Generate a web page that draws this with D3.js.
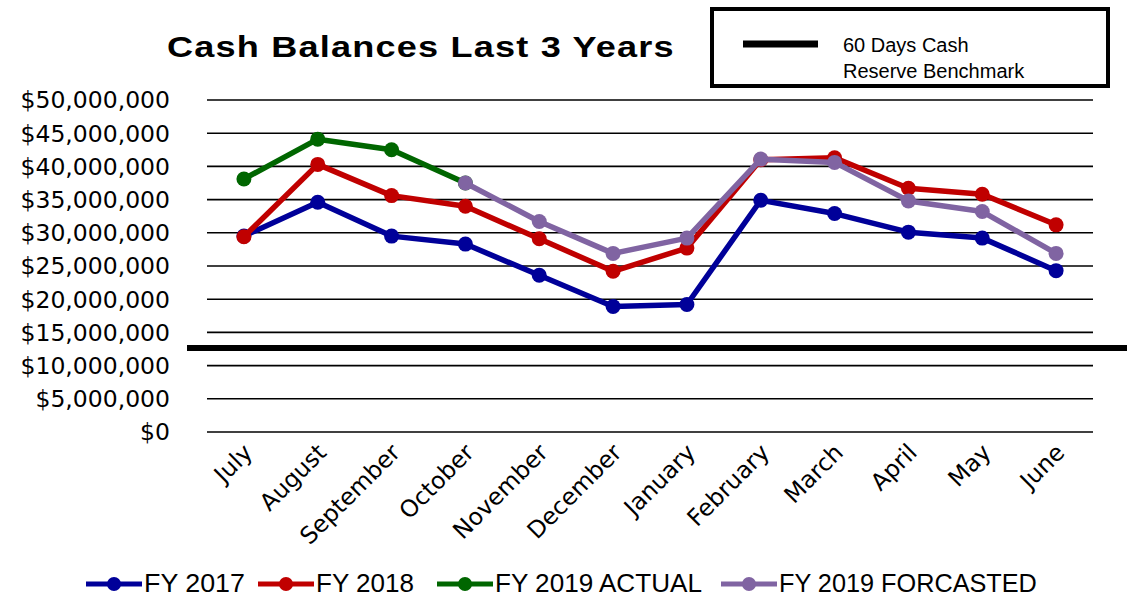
<!DOCTYPE html>
<html>
<head>
<meta charset="utf-8">
<script src="https://cdn.jsdelivr.net/npm/d3@7"></script>
<style>
  body { margin: 0; background: #fff; }
  svg { display: block; }
  .tick-label { font-family: "DejaVu Sans", Verdana, sans-serif; font-size: 23.5px; }
</style>
</head>
<body>
<div class="chart"></div>
<script>
// values in dollars, Jul..Jun
const months = ["July","August","September","October","November","December",
                "January","February","March","April","May","June"];
const fy2017 = [29.5, 34.6, 29.5, 28.3, 23.6, 18.9, 19.2, 34.9, 32.9, 30.1, 29.2, 24.3].map(v => v * 1e6);
const fy2018 = [29.4, 40.3, 35.6, 34.0, 29.1, 24.2, 27.7, 41.0, 41.3, 36.7, 35.8, 31.2].map(v => v * 1e6);
const fy2019Actual = [38.1, 44.1, 42.5, 37.5, null, null, null, null, null, null, null, null].map(v => v == null ? null : v * 1e6);
const fy2019Forecast = [null, null, null, 37.5, 31.7, 26.9, 29.2, 41.1, 40.6, 34.8, 33.2, 26.9].map(v => v == null ? null : v * 1e6);
const yTicks = [0, 5e6, 10e6, 15e6, 20e6, 25e6, 30e6, 35e6, 40e6, 45e6, 50e6];
const benchmark = 12.65e6;

const seriesNames = ["FY 2017", "FY 2018", "FY 2019 ACTUAL", "FY 2019 FORCASTED"];
const seriesColors = ["#000099", "#c00000", "#006600", "#8064a2"];
const seriesValues = [fy2017, fy2018, fy2019Actual, fy2019Forecast];

const width = 1131, height = 597;
const margin = {top: 100, right: 38, bottom: 165, left: 207};
const innerW = width - margin.left - margin.right;
const innerH = height - margin.top - margin.bottom;

const svg = d3.select('.chart').append('svg')
  .attr('width', width).attr('height', height);

const g = svg.append('g').attr('transform', `translate(${margin.left},${margin.top})`);

const x = d3.scaleBand().domain(months).range([0, innerW]);
const y = d3.scaleLinear().domain([0, 50e6]).range([innerH, 0]);

// gridlines
g.append('g').selectAll('line').data(yTicks).join('line')
  .attr('x1', 0).attr('x2', innerW)
  .attr('y1', d => y(d)).attr('y2', d => y(d))
  .attr('stroke', '#000').attr('stroke-width', 1.6);

// y labels
const fmt = d3.format("$,.0f");
g.append('g').selectAll('text').data(yTicks).join('text')
  .attr('class', 'tick-label')
  .attr('x', -37).attr('y', d => y(d)).attr('dy', '0.36em')
  .attr('text-anchor', 'end')
  .text(d => fmt(d));

// x labels rotated
g.append('g').selectAll('text').data(months).join('text')
  .attr('class', 'tick-label')
  .attr('transform', d => `translate(${x(d) + x.bandwidth() / 2 + 10},${innerH + 22}) rotate(-45)`)
  .attr('text-anchor', 'end')
  .text(d => d);

// benchmark line
g.append('line')
  .attr('x1', -20).attr('x2', innerW + 34)
  .attr('y1', y(benchmark)).attr('y2', y(benchmark))
  .attr('stroke', '#000').attr('stroke-width', 6);

// series
const line = d3.line()
  .defined(d => d.v != null)
  .x(d => x(d.m) + x.bandwidth() / 2)
  .y(d => y(d.v));

seriesValues.forEach((vals, i) => {
  const pts = vals.map((v, j) => ({m: months[j], v: v}));
  const sg = g.append('g');
  sg.append('path').datum(pts)
    .attr('d', line)
    .attr('fill', 'none')
    .attr('stroke', seriesColors[i])
    .attr('stroke-width', 5.5)
    .attr('stroke-linejoin', 'round');
  sg.selectAll('circle').data(pts.filter(d => d.v != null)).join('circle')
    .attr('cx', d => x(d.m) + x.bandwidth() / 2)
    .attr('cy', d => y(d.v))
    .attr('r', 7.5)
    .attr('fill', seriesColors[i]);
});

// scale a text horizontally so it fills the wanted width
function fitWidth(sel, x0, y0, w) {
  const natural = sel.node().getComputedTextLength();
  sel.attr('transform', `translate(${x0},${y0}) scale(${w / natural},1)`);
}

// title
const title = svg.append('text')
  .style('font-family', '"Liberation Sans", Arial, sans-serif')
  .style('font-weight', 'bold')
  .style('font-size', '30px')
  .style('letter-spacing', '1px')
  .text('Cash Balances Last 3 Years');
fitWidth(title, 167, 57, 508);

// benchmark legend box
const bx = svg.append('g');
bx.append('rect')
  .attr('x', 712).attr('y', 9).attr('width', 396).attr('height', 77)
  .attr('fill', '#fff').attr('stroke', '#000').attr('stroke-width', 4);
bx.append('line')
  .attr('x1', 743).attr('x2', 818).attr('y1', 44).attr('y2', 44)
  .attr('stroke', '#000').attr('stroke-width', 7);
bx.append('text')
  .attr('x', 843).attr('y', 52)
  .style('font-family', '"Liberation Sans", Arial, sans-serif')
  .style('font-size', '20px')
  .text('60 Days Cash');
bx.append('text')
  .attr('x', 843).attr('y', 78)
  .style('font-family', '"Liberation Sans", Arial, sans-serif')
  .style('font-size', '20px')
  .text('Reserve Benchmark');

// bottom legend
const legX = [86, 258, 437, 721];
const textW = [101, 98, 207, 258];
const leg = svg.append('g').attr('transform', 'translate(0,584)');
seriesNames.forEach((name, i) => {
  const lg = leg.append('g').attr('transform', `translate(${legX[i]},0)`);
  lg.append('line').attr('x1', 0).attr('x2', 56).attr('y1', 0).attr('y2', 0)
    .attr('stroke', seriesColors[i]).attr('stroke-width', 5);
  lg.append('circle').attr('cx', 28).attr('cy', 0).attr('r', 7).attr('fill', seriesColors[i]);
  const t = lg.append('text')
    .style('font-family', '"Liberation Sans Narrow", "Arial Narrow", "Liberation Sans", sans-serif')
    .style('font-size', '25px')
    .text(name);
  fitWidth(t, 58, 8, textW[i]);
});
</script>
</body>
</html>
